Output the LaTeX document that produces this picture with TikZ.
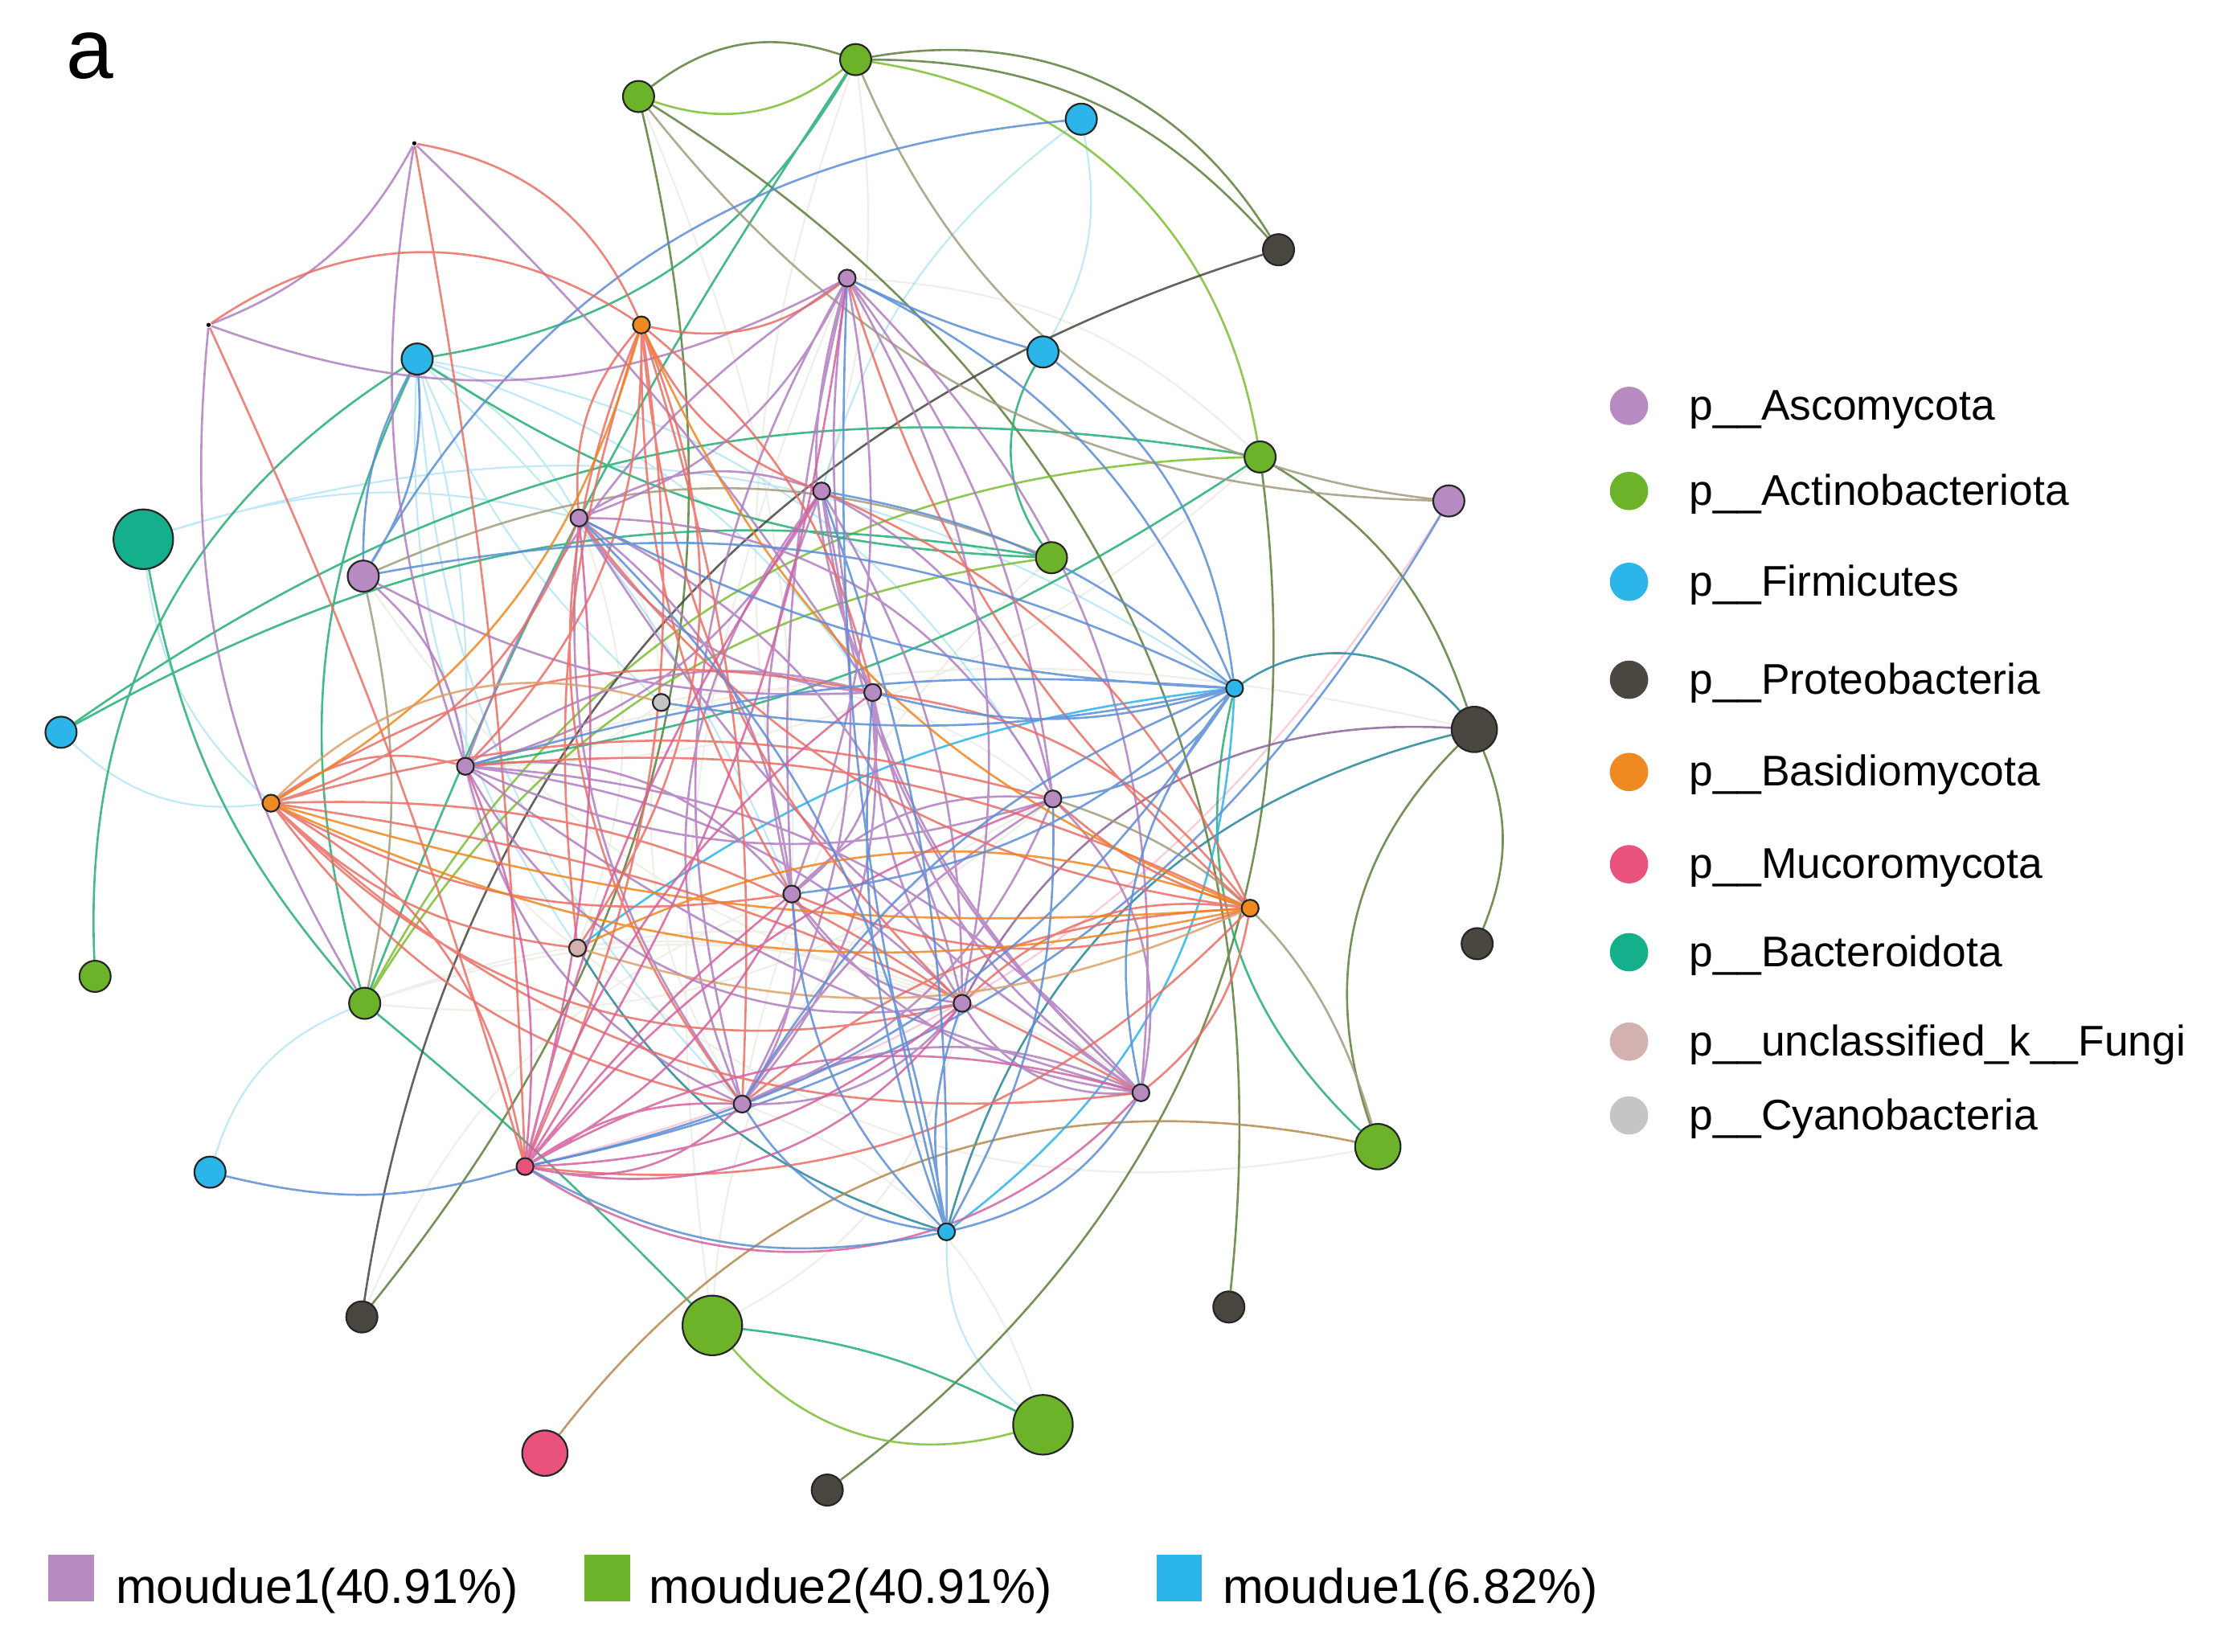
\documentclass[tikz,border=0pt]{standalone}
\usepackage{fontspec}
\setmainfont{Liberation Sans}
\pgfdeclarelayer{bg}
\pgfsetlayers{bg,main}
% phylum colours
\definecolor{asco}{HTML}{B78BC1}
\definecolor{acti}{HTML}{6DB32A}
\definecolor{firm}{HTML}{2BB5E9}
\definecolor{prot}{HTML}{4A4640}
\definecolor{basi}{HTML}{EF8A22}
\definecolor{muco}{HTML}{E8527B}
\definecolor{bact}{HTML}{13B08B}
\definecolor{unfu}{HTML}{D2B1AE}
\definecolor{cyano}{HTML}{C5C5C5}
% edge colours
\definecolor{epur}{HTML}{B07CC0}
\definecolor{ered}{HTML}{EA6D63}
\definecolor{eora}{HTML}{F0861E}
\definecolor{emag}{HTML}{D5609F}
\definecolor{eblu}{HTML}{5B8DD6}
\definecolor{ecya}{HTML}{2AB4EA}
\definecolor{etea}{HTML}{22AE72}
\definecolor{egrn}{HTML}{7BBE30}
\definecolor{eoli}{HTML}{5C7E3A}
\definecolor{edrk}{HTML}{4A4640}
\definecolor{ebtl}{HTML}{25869B}
\definecolor{ekha}{HTML}{A29C7C}
\definecolor{ebrn}{HTML}{B3894F}
\definecolor{etan}{HTML}{DDA06A}
\definecolor{efnt}{HTML}{C9C7B4}
\begin{document}
\begin{tikzpicture}[x=0.01cm, y=-0.01cm,
  nd/.style={circle, draw=black!85, line width=0.35pt, inner sep=0pt},
  sm/.style={nd, minimum size=0.12cm},
  md/.style={nd, minimum size=0.22cm},
  lg/.style={nd, minimum size=0.32cm},
  xl/.style={nd, minimum size=0.42cm},
  pnt/.style={circle, fill=black, inner sep=0pt, minimum size=0.03cm},
  ln/.style={line width=0.42pt, opacity=0.85},
  fnt/.style={line width=0.35pt, opacity=0.3},
  key/.style={circle, inner sep=0pt, minimum size=0.27cm},
  keytxt/.style={anchor=base west, inner sep=0pt, font=\fontsize{8.6}{10}\selectfont},
  modbox/.style={inner sep=0pt, minimum width=0.32cm, minimum height=0.33cm},
  modtxt/.style={anchor=base west, inner sep=0pt, font=\fontsize{9.8}{12}\selectfont}]
\useasboundingbox (0,0) rectangle (1568,1164);

\node[anchor=base west, inner sep=0pt, font=\fontsize{17}{20}\selectfont] (panel) at (46,55) {a};

% Actinobacteriota
\node[md, fill=acti] (act1) at (603,42) {};
\node[md, fill=acti] (act2) at (450,68) {};
\node[md, fill=acti] (act3) at (888,322) {};
\node[md, fill=acti] (act4) at (741,393) {};
\node[md, fill=acti] (act5) at (67,688) {};
\node[md, fill=acti] (act6) at (257,707) {};
\node[lg, fill=acti] (act7) at (971,808) {};
\node[xl, fill=acti] (act8) at (502,934) {};
\node[xl, fill=acti] (act9) at (735,1004) {};
% Firmicutes
\node[md, fill=firm] (fir1) at (762,84) {};
\node[md, fill=firm] (fir2) at (294,253) {};
\node[md, fill=firm] (fir3) at (735,248) {};
\node[md, fill=firm] (fir4) at (43,516) {};
\node[md, fill=firm] (fir5) at (148,826) {};
\node[sm, fill=firm] (fir6) at (870,485) {};
\node[sm, fill=firm] (fir7) at (667,868) {};
% Proteobacteria
\node[md, fill=prot] (pro1) at (901,176) {};
\node[lg, fill=prot] (pro2) at (1039,514) {};
\node[md, fill=prot] (pro3) at (1041,665) {};
\node[md, fill=prot] (pro4) at (255,928) {};
\node[md, fill=prot] (pro5) at (866,921) {};
\node[md, fill=prot] (pro6) at (583,1050) {};
% Ascomycota
\node[md, fill=asco] (asc1) at (1021,353) {};
\node[md, fill=asco] (asc2) at (256,406) {};
\node[sm, fill=asco] (asc3) at (597,196) {};
\node[sm, fill=asco] (asc4) at (408,365) {};
\node[sm, fill=asco] (asc5) at (579,346) {};
\node[sm, fill=asco] (asc6) at (615,488) {};
\node[sm, fill=asco] (asc7) at (328,540) {};
\node[sm, fill=asco] (asc8) at (742,563) {};
\node[sm, fill=asco] (asc9) at (558,630) {};
\node[sm, fill=asco] (asc10) at (678,707) {};
\node[sm, fill=asco] (asc11) at (523,778) {};
\node[sm, fill=asco] (asc12) at (804,770) {};
% Basidiomycota, Mucoromycota, Bacteroidota, others
\node[sm, fill=basi] (bas1) at (452,229) {};
\node[sm, fill=basi] (bas2) at (191,566) {};
\node[sm, fill=basi] (bas3) at (881,640) {};
\node[sm, fill=muco] (muc1) at (370,822) {};
\node[lg, fill=muco] (muc2) at (384,1024) {};
\node[xl, fill=bact] (bac1) at (101,380) {};
\node[sm, fill=cyano] (cya1) at (466,495) {};
\node[sm, fill=unfu] (unf1) at (407,668) {};
\node[pnt] (pt1) at (292,101) {};
\node[pnt] (pt2) at (147,229) {};

\begin{pgfonlayer}{bg}
% faint links
\draw[fnt, efnt] (cya1) to[bend left=20] (asc7) (cya1) to[bend right=22] (asc4)
  (cya1) to[bend left=25] (asc8) (cya1) to[bend right=20] (asc11)
  (unf1) to[bend left=22] (asc7) (unf1) to[bend right=20] (asc4)
  (unf1) to[bend left=25] (asc12) (act6) to[bend right=22] (asc8)
  (act6) to[bend left=20] (asc10) (act8) to[bend left=15] (asc3)
  (act8) to[bend right=25] (asc10) (act3) to[bend left=20] (asc7)
  (act4) to[bend right=18] (asc11) (act7) to[bend left=25] (unf1)
  (act1) to[bend right=15] (asc9) (act2) to[bend left=12] (asc9)
  (asc2) to[bend right=20] (asc10) (act9) to[bend right=25] (asc11)
  (pro4) to[bend left=22] (asc9) (act6) to[bend left=25] (asc12)
  (act8) to[bend left=30] (asc8) (pro2) to[bend right=15] (asc7)
  (act3) to[bend right=20] (asc3) (act1) to[bend left=12] (asc5);
\draw[fnt, firm] (bac1) to[bend left=25] (fir6) (bac1) to[bend left=15] (asc4)
  (bac1) to[bend right=20] (bas2) (fir4) to[bend right=25] (bas2)
  (fir5) to[bend left=25] (act6) (fir1) to[bend right=18] (asc5)
  (fir1) to[bend left=20] (fir3) (fir7) to[bend right=25] (act9)
  (fir2) to[bend left=15] (asc4) (fir2) to[bend left=8] (asc7)
  (fir2) to[bend right=12] (cya1) (fir2) to[bend left=18] (asc6)
  (fir2) to[bend right=18] (unf1) (fir2) to[bend left=12] (asc9)
  (fir2) to[bend right=20] (asc11) (fir2) to[bend left=25] (asc8);
\draw[fnt, muco] (asc1) to[bend left=22] (muc1);

% outer ring
\draw[ln, eoli] (act2) to[bend left=28] (act1)
  (act1) to[bend left=34] (pro1)
  (act1) to[bend left=24] (pro1)
  (act2) to[bend left=26] (pro4)
  (act2) to[bend left=32] (pro5)
  (pro6) to[bend right=30] (act3)
  (act3) to[bend left=20] (pro2)
  (pro2) to[bend left=22] (pro3)
  (pro2) to[bend right=32] (act7);
\draw[ln, egrn] (act2) to[bend right=28] (act1)
  (act1) to[bend left=36] (act3)
  (act3) to[bend right=30] (act6)
  (act4) to[bend right=25] (act6)
  (act8) to[bend right=32] (act9);
\draw[ln, etea] (act8) to[bend left=10] (act9)
  (act6) to[bend left=3] (act8)
  (bac1) to[bend right=15] (act6)
  (act5) to[bend left=30] (fir2)
  (fir4) to[bend left=19] (act4)
  (fir4) to[bend left=22] (act3)
  (fir3) to[bend right=32] (act4)
  (fir2) to[bend right=25] (act1)
  (fir2) to[bend right=15] (act4)
  (fir2) to[bend right=20] (act6)
  (act7) to[bend left=30] (fir6)
  (act1) to[bend right=6] (act6)
  (act3) to[bend left=12] (asc7);
\draw[ln, edrk] (pro1) to[bend right=32] (pro4);
\draw[ln, ebtl] (pro2) to[bend right=42] (fir6)
  (pro2) to[bend right=30] (fir7)
  (unf1) to[bend right=20] (fir7);
\draw[ln, epur!80!black] (pro2) to[bend right=32] (asc10);
\draw[ln, ebrn] (act7) to[bend right=32] (muc2);
\draw[ln, ekha] (act1) to[bend right=30] (asc1)
  (asc1) to[bend left=25] (act2)
  (asc2) to[bend left=22] (act4)
  (asc2) to[bend left=12] (act6)
  (act7) to[bend right=28] (asc8);
\draw[ln, ecya] (fir6) to[bend left=25] (fir7)
  (unf1) to[bend left=15] (fir6);
\draw[ln, eblu] (fir1) to[bend right=27] (asc2)
  (asc1) to[bend left=24] (muc1)
  (fir3) to[bend left=5] (asc3)
  (fir3) to[bend left=22] (fir6)
  (fir5) to[bend right=15] (muc1)
  (fir2) to[bend left=18] (asc2)
  (fir2) to[bend right=14] (asc2);

% tiny points
\draw[ln, epur] (pt1) to[bend left=20] (pt2)
  (pt1) to[bend right=14] (asc7)
  (pt1) to[bend left=6] (asc6)
  (pt2) to[bend right=18] (act6)
  (pt2) to[bend right=24] (asc3);
\draw[ln, ered] (pt2) to[bend left=34] (bas1)
  (pt1) to[bend left=28] (bas1)
  (pt1) to[bend left=4] (muc1)
  (pt2) to[bend left=4] (muc1);

% module hub
\draw[ln, epur] (asc3) to[bend left=22] (asc4) (asc3) to[bend right=18] (asc7)
  (asc3) to[bend left=15] (asc9) (asc3) to[bend right=22] (asc11)
  (asc3) to[bend left=20] (asc10) (asc3) to[bend left=25] (asc12)
  (asc3) to[bend right=20] (asc6) (asc3) to[bend left=14] (asc8)
  (asc3) to[bend right=28] (asc12) (asc3) to[bend right=8] (asc9)
  (asc5) to[bend left=22] (asc7) (asc5) to[bend left=20] (asc11)
  (asc5) to[bend right=18] (asc9) (asc5) to[bend right=20] (asc12)
  (asc5) to[bend left=15] (asc10) (asc5) to[bend right=25] (asc4)
  (asc5) to[bend left=25] (asc8) (asc5) to[bend right=30] (asc11)
  (asc4) to[bend right=20] (asc11) (asc4) to[bend left=22] (asc9)
  (asc4) to[bend left=25] (asc10) (asc4) to[bend right=25] (asc6)
  (asc4) to[bend right=12] (asc12) (asc4) to[bend left=30] (asc8)
  (asc7) to[bend left=25] (asc6) (asc7) to[bend right=20] (asc8)
  (asc7) to[bend left=18] (asc10) (asc7) to[bend right=25] (asc11)
  (asc7) to[bend left=22] (asc12) (asc7) to[bend left=28] (asc9)
  (asc7) to[bend right=10] (asc12) (asc7) to[bend right=35] (asc10)
  (asc6) to[bend left=22] (asc11) (asc6) to[bend right=22] (asc12)
  (asc6) to[bend left=30] (asc9) (asc6) to[bend right=15] (asc10)
  (asc8) to[bend left=22] (asc11) (asc8) to[bend right=25] (asc9)
  (asc8) to[bend left=28] (asc12) (asc8) to[bend right=12] (asc11)
  (asc9) to[bend right=22] (asc12) (asc10) to[bend left=25] (asc11)
  (asc11) to[bend left=25] (asc12) (asc10) to[bend right=30] (asc12)
  (asc2) to[bend left=20] (asc7) (asc2) to[bend right=15] (asc6)
  (asc9) to[bend left=20] (asc11) (asc9) to[bend right=25] (asc10);
\draw[ln, ered] (bas1) to[bend right=22] (asc4) (bas1) to[bend left=22] (asc7)
  (bas1) to[bend right=15] (asc9) (bas1) to[bend left=10] (asc11)
  (bas1) to[bend right=12] (unf1) (bas1) to[bend left=16] (muc1)
  (bas1) to[bend left=18] (asc6) (bas1) to[bend right=20] (asc10)
  (bas1) to[bend right=25] (asc3) (bas1) to[bend right=22] (asc5)
  (bas1) to[bend right=30] (asc11) (bas1) to[bend left=28] (unf1)
  (bas2) to[bend left=25] (asc7) (bas2) to[bend right=20] (asc11)
  (bas2) to[bend right=25] (asc12) (bas2) to[bend left=18] (asc10)
  (bas2) to[bend right=18] (asc9) (bas2) to[bend left=15] (asc8)
  (bas2) to[bend left=22] (asc6) (bas2) to[bend right=25] (asc4)
  (bas2) to[bend right=18] (unf1) (bas2) to[bend left=25] (muc1)
  (bas2) to[bend right=30] (asc10) (bas2) to[bend left=10] (asc12)
  (bas3) to[bend right=20] (asc5) (bas3) to[bend left=15] (asc3)
  (bas3) to[bend right=15] (asc7) (bas3) to[bend left=20] (asc9)
  (bas3) to[bend right=18] (asc11) (bas3) to[bend left=22] (asc4)
  (bas3) to[bend right=22] (asc6) (bas3) to[bend right=25] (asc10)
  (bas3) to[bend left=20] (asc12) (muc1) to[bend right=26] (bas3)
  (bas3) to[bend left=12] (asc8);
\draw[ln, eora] (bas2) to[bend right=22] (bas1)
  (bas1) to[bend right=22] (bas3)
  (bas2) to[bend right=18] (bas3)
  (bas2) to[bend right=10] (bas3)
  (bas3) to[bend right=22] (unf1);
\draw[ln, etan] (bas2) to[bend left=30] (cya1)
  (unf1) to[bend right=20] (bas3);
\draw[ln, emag] (muc1) to[bend left=18] (asc11) (muc1) to[bend right=18] (asc10)
  (muc1) to[bend left=22] (asc12) (muc1) to[bend right=16] (asc9)
  (muc1) to[bend left=14] (asc8) (muc1) to[bend right=14] (asc7)
  (muc1) to[bend left=16] (asc6) (muc1) to[bend right=10] (asc4)
  (muc1) to[bend left=10] (asc5) (muc1) to[bend right=12] (asc3)
  (muc1) to[bend right=40] (asc12) (muc1) to[bend right=32] (asc10)
  (muc1) to[bend right=28] (asc11) (muc1) to[bend left=6] (asc9);
\draw[ln, eblu] (fir6) to[bend right=20] (asc3) (fir6) to[bend right=15] (asc5)
  (fir6) to[bend left=12] (asc4) (fir6) to[bend right=10] (asc7)
  (fir6) to[bend left=18] (asc9) (fir6) to[bend right=18] (asc11)
  (fir6) to[bend left=15] (asc6) (fir6) to[bend right=18] (asc2)
  (fir6) to[bend left=10] (cya1) (fir6) to[bend left=22] (muc1)
  (fir6) to[bend right=25] (asc12) (fir6) to[bend left=25] (asc8)
  (fir7) to[bend left=15] (asc10) (fir7) to[bend right=15] (asc8)
  (fir7) to[bend left=12] (asc6) (fir7) to[bend right=10] (asc5)
  (fir7) to[bend left=25] (asc11) (fir7) to[bend left=8] (asc3)
  (fir7) to[bend right=18] (asc4) (fir7) to[bend right=22] (asc12)
  (muc1) to[bend right=20] (fir7) (fir7) to[bend left=20] (asc9);
\end{pgfonlayer}

% phylum key
\node[key, fill=asco] (k1) at (1148,286) {};
\node[keytxt] (t1) at (1190,296) {p\_\_Ascomycota};
\node[key, fill=acti] (k2) at (1148,346) {};
\node[keytxt] (t2) at (1190,356) {p\_\_Actinobacteriota};
\node[key, fill=firm] (k3) at (1148,410) {};
\node[keytxt] (t3) at (1190,420) {p\_\_Firmicutes};
\node[key, fill=prot] (k4) at (1148,479) {};
\node[keytxt] (t4) at (1190,489) {p\_\_Proteobacteria};
\node[key, fill=basi] (k5) at (1148,544) {};
\node[keytxt] (t5) at (1190,554) {p\_\_Basidiomycota};
\node[key, fill=muco] (k6) at (1148,609) {};
\node[keytxt] (t6) at (1190,619) {p\_\_Mucoromycota};
\node[key, fill=bact] (k7) at (1148,671) {};
\node[keytxt] (t7) at (1190,681) {p\_\_Bacteroidota};
\node[key, fill=unfu] (k8) at (1148,734) {};
\node[keytxt] (t8) at (1190,744) {p\_\_unclassified\_k\_\_Fungi};
\node[key, fill=cyano] (k9) at (1148,786) {};
\node[keytxt] (t9) at (1190,796) {p\_\_Cyanobacteria};

% module key
\node[modbox, fill=asco] (mb1) at (50,1112) {};
\node[modtxt] (mt1) at (81,1130) {moudue1(40.91\%)};
\node[modbox, fill=acti] (mb2) at (428,1112) {};
\node[modtxt] (mt2) at (457,1130) {moudue2(40.91\%)};
\node[modbox, fill=firm] (mb3) at (831,1112) {};
\node[modtxt] (mt3) at (861,1130) {moudue1(6.82\%)};
\end{tikzpicture}
\end{document}
